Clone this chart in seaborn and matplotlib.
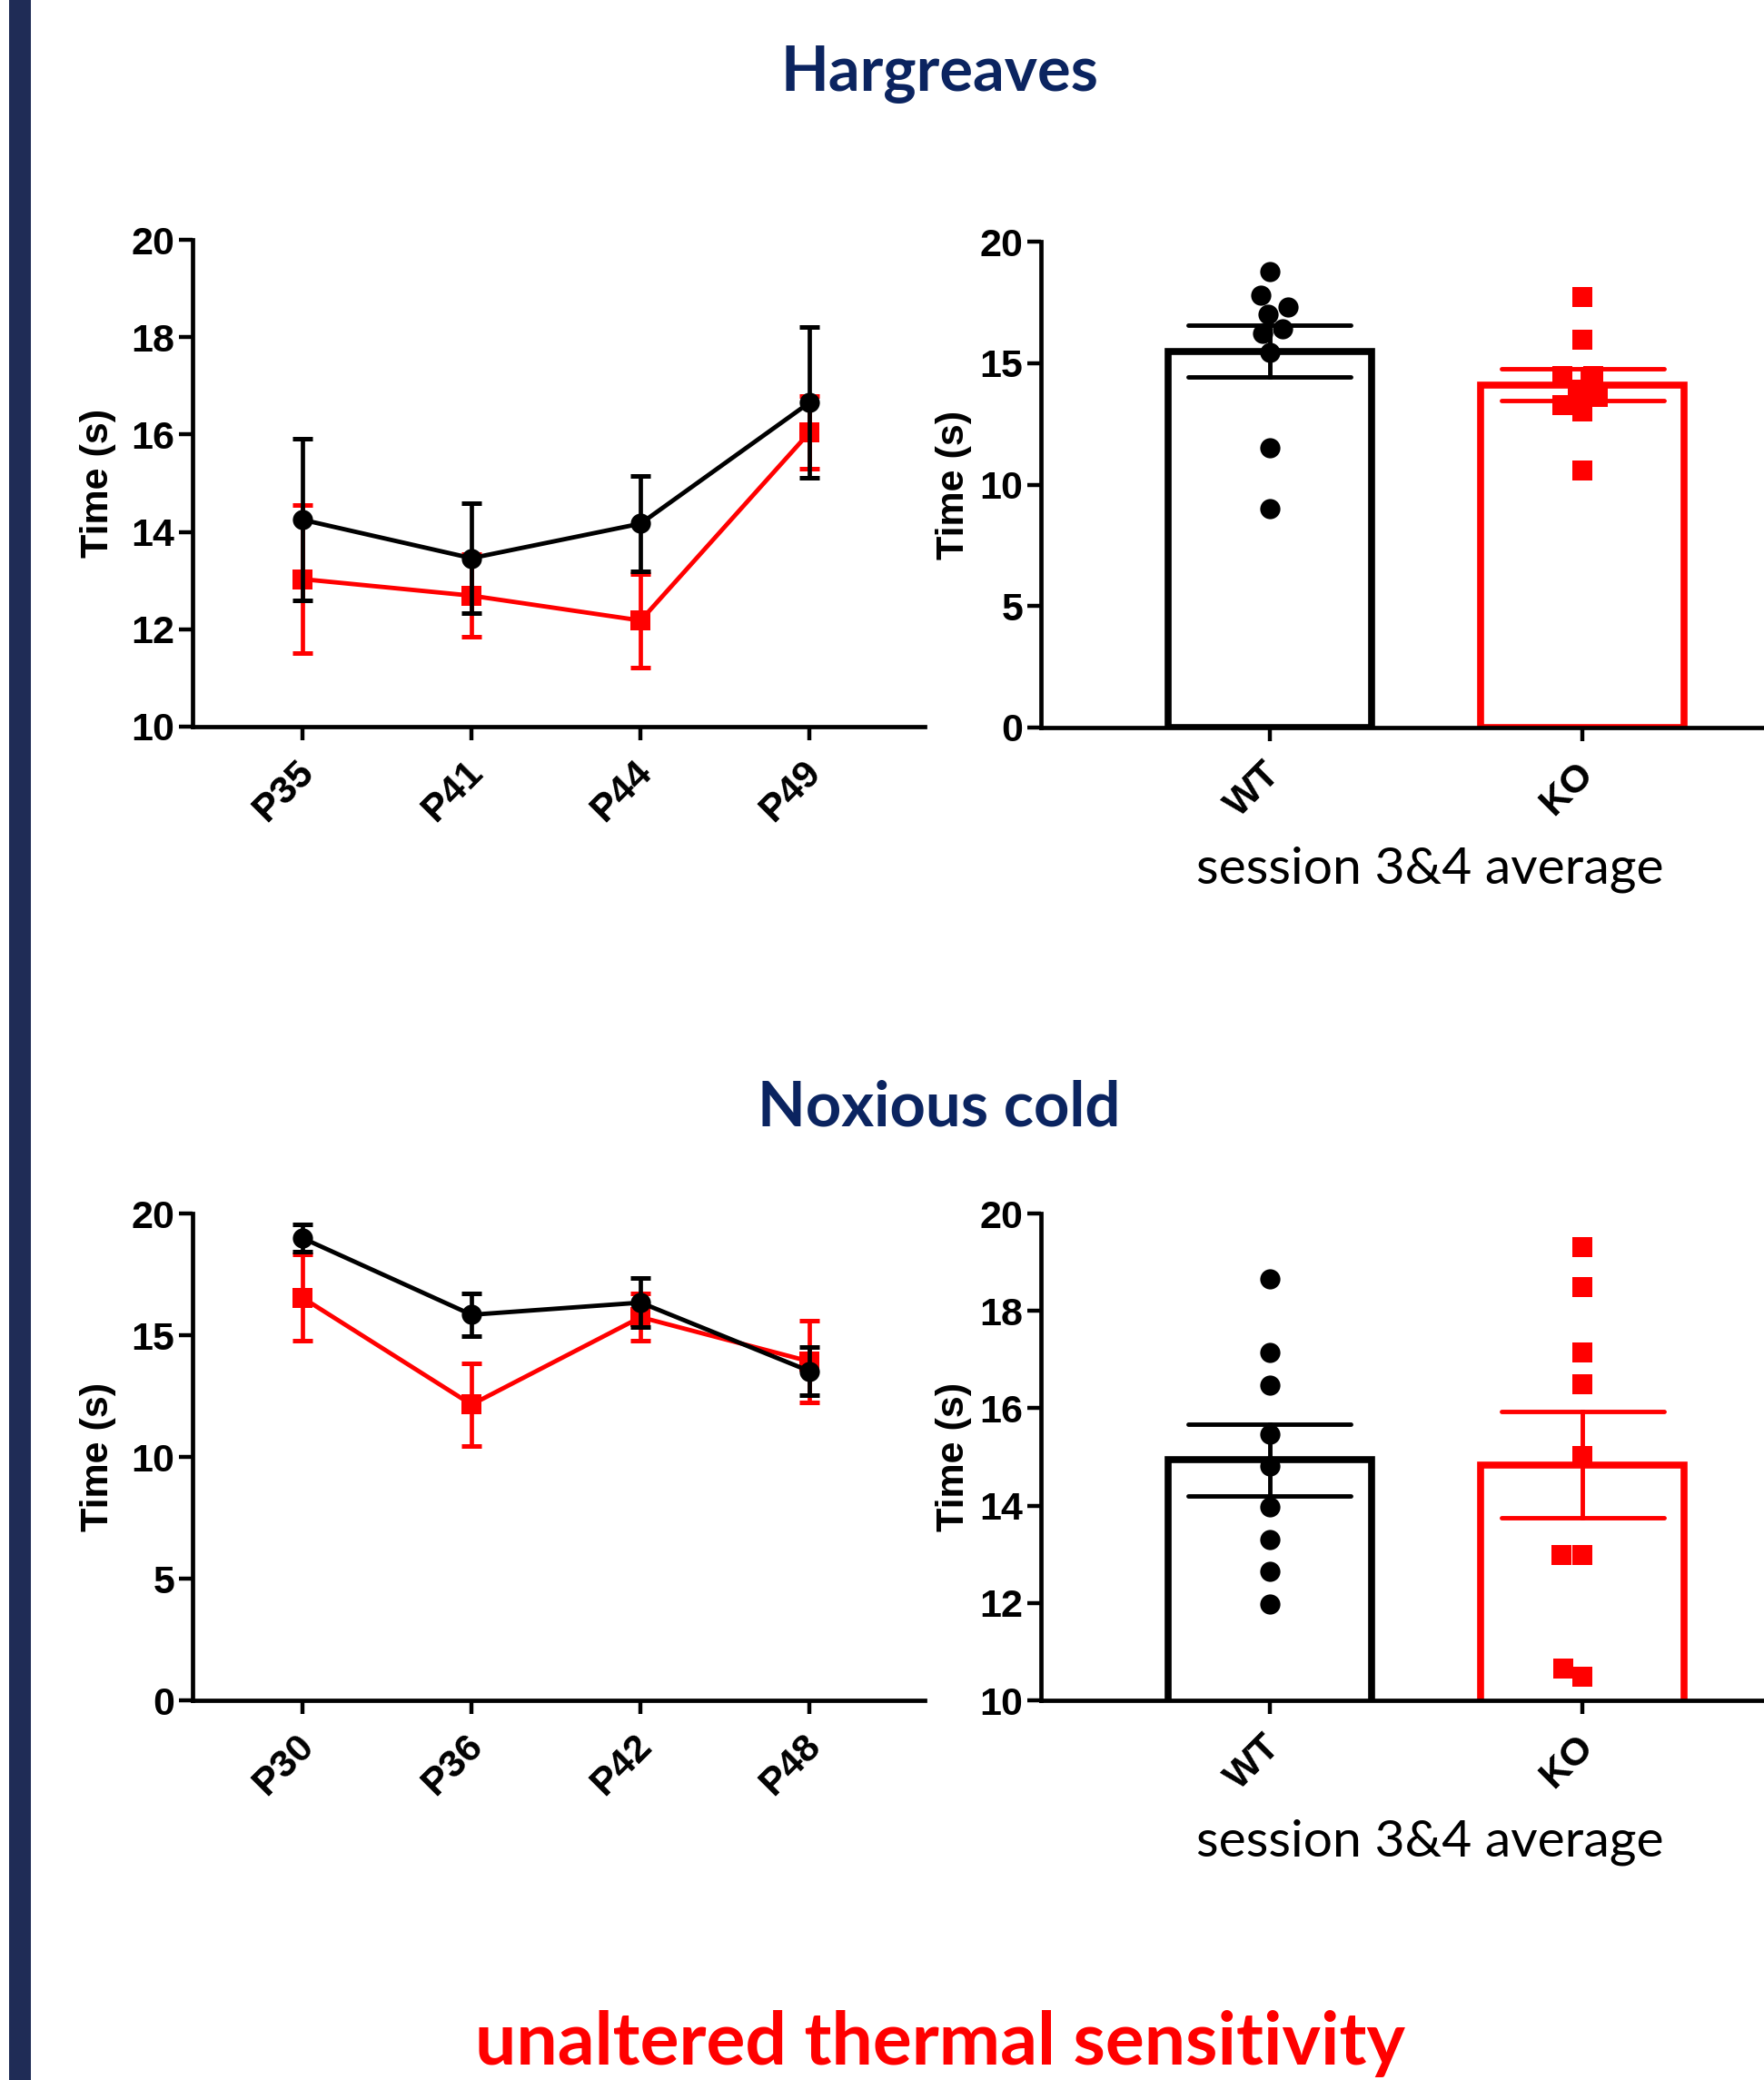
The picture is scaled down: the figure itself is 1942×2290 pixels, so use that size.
import numpy as np
import pandas as pd
import seaborn as sns
import matplotlib.pyplot as plt
from matplotlib.patches import Rectangle
from matplotlib.transforms import ScaledTranslation

sns.set_theme(style='ticks')
plt.rcParams['font.family'] = ['Liberation Sans', 'DejaVu Sans']
plt.rcParams['font.weight'] = 'bold'

groups = ['WT', 'KO']
colors = {'WT': 'black', 'KO': '#ff0000'}
markers = {'WT': 'o', 'KO': 's'}
navy = '#0b2460'

# Hargreaves time course (mean, sem)
harg_days = ['P35', 'P41', 'P44', 'P49']
harg_wt_mean = [14.25, 13.46, 14.17, 16.66]
harg_wt_sem = [1.66, 1.13, 0.98, 1.55]
harg_ko_mean = [13.03, 12.69, 12.18, 16.05]
harg_ko_sem = [1.52, 0.85, 0.96, 0.75]

# Hargreaves, session 3&4 average per animal
harg_wt_pts = [18.76, 17.79, 17.30, 17.01, 16.42, 16.21, 15.43, 11.53, 9.0]
harg_ko_pts = [17.73, 15.98, 14.47, 14.47, 13.9, 13.6, 13.27, 13.01, 10.57]

# Noxious cold time course (mean, sem)
cold_days = ['P30', 'P36', 'P42', 'P48']
cold_wt_mean = [18.99, 15.84, 16.34, 13.52]
cold_wt_sem = [0.55, 0.88, 1.0, 1.0]
cold_ko_mean = [16.54, 12.15, 15.74, 13.92]
cold_ko_sem = [1.78, 1.7, 0.98, 1.68]

# Noxious cold, session 3&4 average per animal
cold_wt_pts = [18.65, 17.14, 16.48, 15.47, 14.81, 13.97, 13.31, 12.64, 11.98]
cold_ko_pts = [19.31, 18.49, 17.14, 16.49, 15.01, 12.99, 12.99, 10.65, 10.48]

W, H = 1942, 2290
fig = plt.figure(figsize=(W / 100, H / 100), dpi=100)


def style_axes(ax, ylim, yticks, xlim, label_x):
    sns.despine(ax=ax)
    ax.set_ylim(*ylim)
    ax.set_yticks(yticks)
    ax.set_xlim(*xlim)
    for s in ['left', 'bottom']:
        ax.spines[s].set_linewidth(3.4)
        ax.spines[s].set_color('black')
    ax.tick_params(axis='both', length=11, width=3.2, labelsize=31, colors='black')
    ax.tick_params(axis='y', pad=3)
    ax.tick_params(axis='x', pad=21)
    ax.set_xlabel('')
    ax.set_ylabel('Time (s)', fontsize=31, fontweight='bold', color='black')
    ax.yaxis.set_label_coords(label_x, 0.5)
    offset = ScaledTranslation(0.06, 0, fig.dpi_scale_trans)
    for lbl in ax.get_xticklabels():
        lbl.set_rotation(45)
        lbl.set_ha('right')
        lbl.set_va('center')
        lbl.set_rotation_mode('anchor')
        lbl.set_transform(lbl.get_transform() + offset)
    for lbl in ax.get_xticklabels() + ax.get_yticklabels():
        lbl.set_fontweight('bold')


def line_panel(ax, days, wt_mean, wt_sem, ko_mean, ko_sem, ylim, yticks):
    df = pd.DataFrame({'day': days * 2,
                       'group': ['WT'] * len(days) + ['KO'] * len(days),
                       'mean': wt_mean + ko_mean,
                       'sem': wt_sem + ko_sem})
    for g in ['KO', 'WT']:
        sub = df[df['group'] == g]
        z = 4 if g == 'WT' else 3
        ax.errorbar(sub['day'], sub['mean'], yerr=sub['sem'], fmt='none',
                    ecolor=colors[g], elinewidth=3.4, capsize=8, capthick=3.6, zorder=z)
        sns.lineplot(data=sub, x='day', y='mean', color=colors[g], marker=markers[g],
                     markersize=16, markeredgewidth=0, linewidth=3.5, ax=ax, zorder=z)
    style_axes(ax, ylim, yticks, (-0.65, 3.68), -0.104)


def bar_panel(ax, wt_pts, ko_pts, ylim, yticks):
    df = pd.DataFrame({'group': ['WT'] * len(wt_pts) + ['KO'] * len(ko_pts),
                       'time': wt_pts + ko_pts})
    for g in groups:
        sub = df[df['group'] == g]
        sns.barplot(data=sub, x='group', y='time', order=groups, errorbar='se',
                    color=colors[g], fill=False, width=0.65, linewidth=5.5,
                    capsize=0.52, err_kws={'color': colors[g], 'linewidth': 3.5}, ax=ax)
    for g in groups:
        sub = df[df['group'] == g]
        sns.swarmplot(data=sub, x='group', y='time', order=groups, color=colors[g],
                      marker=markers[g], size=16, linewidth=0, ax=ax, zorder=5)
    style_axes(ax, ylim, yticks, (-0.73, 1.58), -0.096)


ax1 = fig.add_axes([212 / W, 1 - 800 / H, 806 / W, 536 / H])
ax2 = fig.add_axes([1146 / W, 1 - 801 / H, 796 / W, 535 / H])
ax3 = fig.add_axes([212 / W, 1 - 1872 / H, 806 / W, 536 / H])
ax4 = fig.add_axes([1146 / W, 1 - 1872 / H, 796 / W, 536 / H])

line_panel(ax1, harg_days, harg_wt_mean, harg_wt_sem, harg_ko_mean, harg_ko_sem,
           (10, 20), np.arange(10, 21, 2))
bar_panel(ax2, harg_wt_pts, harg_ko_pts, (0, 20), np.arange(0, 21, 5))
line_panel(ax3, cold_days, cold_wt_mean, cold_wt_sem, cold_ko_mean, cold_ko_sem,
           (0, 20), np.arange(0, 21, 5))
bar_panel(ax4, cold_wt_pts, cold_ko_pts, (10, 20), np.arange(10, 21, 2))

title_font = ['Lato', 'DejaVu Sans']
fig.text(1034 / W, 1 - 100 / H, 'Hargreaves', ha='center', va='baseline',
         fontsize=49.5, fontweight='bold', color=navy, family=title_font)
fig.text(1034 / W, 1 - 1240 / H, 'Noxious cold', ha='center', va='baseline',
         fontsize=49.5, fontweight='bold', color=navy, family=title_font)
fig.text(1574 / W, 1 - 972 / H, 'session 3&4 average', ha='center', va='baseline',
         fontsize=41, fontweight='normal', color='black', family=title_font)
fig.text(1574 / W, 1 - 2043 / H, 'session 3&4 average', ha='center', va='baseline',
         fontsize=41, fontweight='normal', color='black', family=title_font)
fig.text(1035 / W, 1 - 2273 / H, 'unaltered thermal sensitivity', ha='center', va='baseline',
         fontsize=58, fontweight='bold', color='#ff0000', family=title_font)

fig.patches.append(Rectangle((10 / W, 0), 24 / W, 1, transform=fig.transFigure,
                             facecolor='#1f2c56', edgecolor='none'))

fig.savefig('out.png', dpi=100)
